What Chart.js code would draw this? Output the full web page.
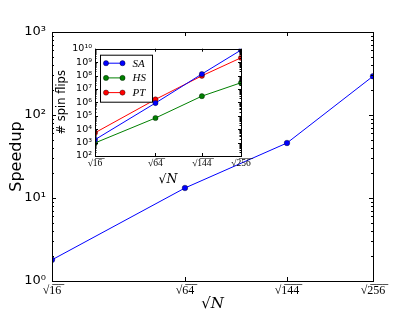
<!DOCTYPE html>
<html><head><meta charset="utf-8">
<script src="https://cdn.jsdelivr.net/npm/chart.js@4/dist/chart.umd.min.js"></script>
<style>
html,body{margin:0;padding:0;background:#fff;}
#wrap{position:relative;width:415px;height:312px;overflow:hidden;}
#main{position:absolute;left:0;top:0;}
#inset{position:absolute;left:55px;top:40px;}
</style></head><body>
<div id="wrap">
<canvas id="main" width="415" height="312"></canvas>
<canvas id="inset" width="200" height="150"></canvas>
</div>
<script>
// ---- data ----
const sizes = [16, 64, 144, 256];                       // N
const sizeLabels = ['√1\u03056\u0305', '√6\u03054\u0305', '√1\u03054\u03054\u0305', '√2\u03055\u03056\u0305'];
const speedup = [1.8, 13.2, 46, 293];
const seriesNames = ['SA', 'HS', 'PT'];
const flipsSA = [1660, 8.9e5, 1.3e8, 7.9e9];
const flipsHS = [940, 6.8e4, 2.9e6, 2.9e7];
const flipsPT = [5400, 1.66e6, 9.5e7, 2.1e9];
const mainYTicks = [1, 10, 100, 1000];
const insetYTicks = [1e2, 1e3, 1e4, 1e5, 1e6, 1e7, 1e8, 1e9, 1e10];

const SUP = {'0':'⁰','1':'¹','2':'²','3':'³','4':'⁴','5':'⁵','6':'⁶','7':'⁷','8':'⁸','9':'⁹','-':'⁻'};
function pow10Label(v){ const e = Math.round(Math.log10(v)); return '10' + String(e).split('').map(c=>SUP[c]).join(''); }
const xPos = n => Math.pow(n, 0.25);   // axis is linear in N^(1/4)

// inward ticks + frame
const frameTicks = {
  id: 'frameTicks',
  afterDraw(chart, args, opts) {
    const {ctx, chartArea: a, scales: {x, y}} = chart;
    ctx.save();
    ctx.strokeStyle = '#000';
    ctx.lineWidth = 1;
    const M = opts.major, m = opts.minor;
    ctx.beginPath();
    x.ticks.forEach(t => {
      const px = Math.round(x.getPixelForValue(t.value)) + 0.5;
      ctx.moveTo(px, a.bottom); ctx.lineTo(px, a.bottom - M);
      ctx.moveTo(px, a.top); ctx.lineTo(px, a.top + M);
    });
    const lo = Math.round(Math.log10(y.min)), hi = Math.round(Math.log10(y.max));
    for (let e = lo; e <= hi; e++) {
      for (let k = 1; k <= 9; k++) {
        const v = k * Math.pow(10, e);
        if (v < y.min * 0.999 || v > y.max * 1.001) continue;
        const py = Math.round(y.getPixelForValue(v)) + 0.5;
        const L = k === 1 ? M : m;
        ctx.moveTo(a.left, py); ctx.lineTo(a.left + L, py);
        ctx.moveTo(a.right, py); ctx.lineTo(a.right - L, py);
      }
    }
    ctx.stroke();
    ctx.strokeRect(Math.round(a.left) + 0.5, Math.round(a.top) + 0.5, Math.round(a.right - a.left), Math.round(a.bottom - a.top));
    ctx.restore();
  }
};

const whiteArea = {
  id: 'whiteArea',
  beforeDraw(chart) {
    const {ctx, chartArea: a} = chart;
    ctx.save(); ctx.fillStyle = '#fff';
    ctx.fillRect(a.left, a.top, a.right - a.left, a.bottom - a.top);
    ctx.restore();
  }
};

// legend box drawn from the chart's datasets
const insetLegend = {
  id: 'insetLegend',
  afterDraw(chart) {
    const {ctx, chartArea: a} = chart;
    const bx = a.left + 5.5, by = a.top + 6.5, bw = 52, bh = 47;
    ctx.save();
    ctx.fillStyle = '#fff'; ctx.strokeStyle = '#000'; ctx.lineWidth = 1;
    ctx.fillRect(bx, by, bw, bh); ctx.strokeRect(bx, by, bw, bh);
    chart.data.datasets.forEach((ds, i) => {
      const cy = by + 8 + i * 14.7;
      ctx.strokeStyle = ds.borderColor; ctx.lineWidth = 1;
      ctx.beginPath(); ctx.moveTo(bx + 5.5, cy); ctx.lineTo(bx + 22, cy); ctx.stroke();
      [bx + 5.5, bx + 22].forEach(px => {
        ctx.beginPath(); ctx.arc(px, cy, 2.6, 0, Math.PI * 2);
        ctx.fillStyle = ds.backgroundColor; ctx.fill();
        ctx.strokeStyle = '#000'; ctx.lineWidth = 0.4; ctx.stroke();
      });
      ctx.fillStyle = '#000';
      ctx.font = 'italic 11px "Liberation Serif"';
      ctx.textBaseline = 'middle'; ctx.textAlign = 'left';
      ctx.fillText(ds.label, bx + 32, cy + 0.5);
    });
    ctx.restore();
  }
};

function xTicksBuilder(s){ s.ticks = sizes.map(n => ({value: xPos(n)})); }

new Chart(document.getElementById('main'), {
  type: 'line',
  data: { datasets: [{
    label: 'Speedup',
    data: sizes.map((n, i) => ({x: xPos(n), y: speedup[i]})),
    borderColor: '#0000ff', backgroundColor: '#0000ff', borderWidth: 1,
    pointRadius: 2.8, pointBorderColor: '#000', pointBorderWidth: 0.4, tension: 0
  }]},
  options: {
    responsive: false, animation: false, devicePixelRatio: 1,
    layout: {padding: {left: 0, right: 42, top: 32, bottom: 0}},
    plugins: {legend: {display: false}, tooltip: {enabled: false}, frameTicks: {major: 4, minor: 2}},
    scales: {
      x: {
        type: 'linear', min: 2, max: 4,
        afterBuildTicks: xTicksBuilder,
        afterFit: s => { s.height = 31; },
        grid: {display: false, drawTicks: false}, border: {display: false},
        ticks: {font: {family: 'Liberation Serif', size: 12}, color: '#000', padding: 3, maxRotation: 0, autoSkip: false,
                callback: (v, i) => sizeLabels[i]},
        title: {display: true, text: '√𝑁', font: {family: 'DejaVu Serif', size: 15, lineHeight: 1}, color: '#000', padding: 0}
      },
      y: {
        type: 'logarithmic', min: 1, max: 1000,
        afterBuildTicks: s => { s.ticks = mainYTicks.map(v => ({value: v})); },
        afterFit: s => { s.width = 52; },
        grid: {display: false, drawTicks: false}, border: {display: false},
        ticks: {font: {family: 'DejaVu Sans', size: 13}, color: '#000', padding: 6, callback: v => pow10Label(v)},
        title: {display: true, text: 'Speedup', font: {family: 'DejaVu Sans', size: 16}, color: '#000', padding: {top: 7, bottom: 0}}
      }
    }
  },
  plugins: [frameTicks]
});

const insetSets = [flipsSA, flipsHS, flipsPT];
const insetColors = ['#0000ff', '#008000', '#ff0000'];
new Chart(document.getElementById('inset'), {
  type: 'line',
  data: { datasets: insetSets.map((arr, j) => ({
    label: seriesNames[j],
    data: sizes.map((n, i) => ({x: xPos(n), y: arr[i]})),
    borderColor: insetColors[j], backgroundColor: insetColors[j], borderWidth: 1,
    pointRadius: 2.6, pointBorderColor: '#000', pointBorderWidth: 0.4, tension: 0
  }))},
  options: {
    responsive: false, animation: false, devicePixelRatio: 1,
    layout: {padding: {left: 0, right: 14, top: 7, bottom: 0}},
    plugins: {legend: {display: false}, tooltip: {enabled: false}, frameTicks: {major: 3, minor: 1.5}},
    scales: {
      x: {
        type: 'linear', min: 2, max: 4,
        afterBuildTicks: xTicksBuilder,
        afterFit: s => { s.height = 34; },
        grid: {display: false, drawTicks: false}, border: {display: false},
        ticks: {font: {family: 'Liberation Serif', size: 9.5}, color: '#000', padding: 2, maxRotation: 0, autoSkip: false,
                callback: (v, i) => sizeLabels[i]},
        title: {display: true, text: '√𝑁', font: {family: 'DejaVu Serif', size: 12.5, lineHeight: 1}, color: '#000', padding: {bottom: 4}}
      },
      y: {
        type: 'logarithmic', min: 1e2, max: 1e10,
        afterBuildTicks: s => { s.ticks = insetYTicks.map(v => ({value: v})); },
        afterFit: s => { s.width = 40; },
        grid: {display: false, drawTicks: false}, border: {display: false},
        ticks: {font: {family: 'DejaVu Sans', size: 9.5}, color: '#000', padding: 3, autoSkip: false, callback: v => pow10Label(v)},
        title: {display: true, text: '# spin flips', font: {family: 'DejaVu Sans', size: 11.5}, color: '#000', padding: {top: 0, bottom: 0}}
      }
    }
  },
  plugins: [whiteArea, frameTicks, insetLegend]
});
</script>
</body></html>
